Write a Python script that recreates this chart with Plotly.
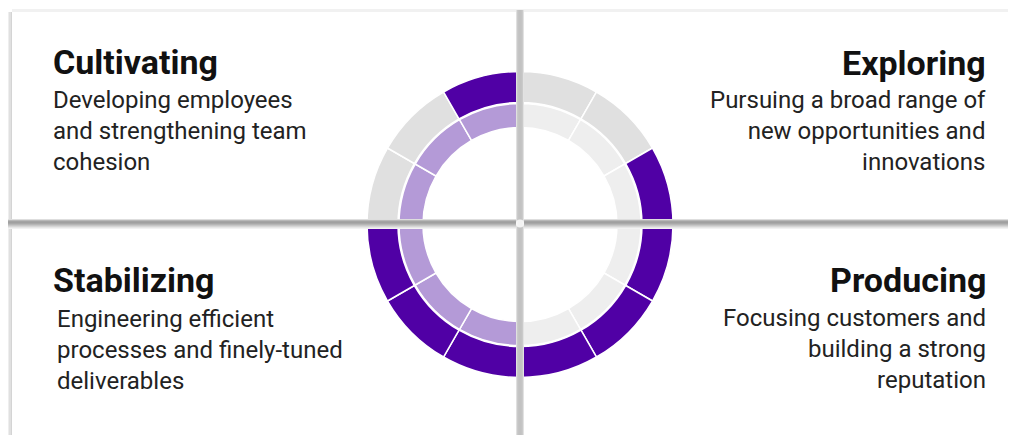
import plotly.graph_objects as go

# The page body has an 8px default margin; the figure is sized to fill the rest
OFF = 8
SCREEN_W, SCREEN_H = 1016, 435
W, H = SCREEN_W - OFF, SCREEN_H - OFF

# ---------------- data ----------------
quadrants = ["Exploring", "Producing", "Stabilizing", "Cultivating"]
descriptions = [
    ["Pursuing a broad range of", "new opportunities and", "innovations"],
    ["Focusing customers and", "building a strong", "reputation"],
    ["Engineering efficient", "processes and finely-tuned", "deliverables"],
    ["Developing employees", "and strengthening team", "cohesion"],
]
# 12 equal segments, clockwise from 12 o'clock (3 per quadrant)
segment_values = [1, 1, 1, 1, 1, 1, 1, 1, 1, 1, 1, 1]
outer_ring_active = [0, 0, 1, 1, 1, 1, 1, 1, 1, 0, 0, 1]
inner_ring_active = [0, 0, 0, 0, 0, 0, 1, 1, 1, 1, 1, 1]

# ---------------- style ----------------
PURPLE = "#5000a5"
LIGHT_PURPLE = "#b49ad7"
OUTER_GRAY = "#e0e0e0"
INNER_GRAY = "#eeeeee"
FONT = "Roboto"

CX, CY = 520, 224.5
R_OUT, R_OUT_IN = 153, 122
R_IN, R_IN_IN = 121, 97


def px(x):
    return (x - OFF) / W


def py(y):
    return (H - (y - OFF)) / H


def domain(r):
    return dict(x=[px(CX - r), px(CX + r)], y=[py(CY + r), py(CY - r)])


fig = go.Figure()

fig.add_trace(go.Pie(
    values=segment_values,
    sort=False, direction="clockwise", rotation=0,
    hole=R_OUT_IN / R_OUT,
    marker=dict(colors=[PURPLE if a else OUTER_GRAY for a in outer_ring_active],
                line=dict(color="white", width=1.5)),
    textinfo="none", hoverinfo="skip", showlegend=False,
    domain=domain(R_OUT),
))
fig.add_trace(go.Pie(
    values=segment_values,
    sort=False, direction="clockwise", rotation=0,
    hole=R_IN_IN / R_IN,
    marker=dict(colors=[LIGHT_PURPLE if a else INNER_GRAY for a in inner_ring_active],
                line=dict(color="white", width=1.5)),
    textinfo="none", hoverinfo="skip", showlegend=False,
    domain=domain(R_IN),
))

shapes = []


def rect(x0, y0, x1, y1, color, layer="below", opacity=1):
    shapes.append(dict(type="rect", xref="paper", yref="paper",
                       x0=px(x0), x1=px(x1), y0=py(y1), y1=py(y0),
                       fillcolor=color, line=dict(width=0), layer=layer,
                       opacity=opacity))


# outer card shadows (top and left)
rect(12, 9, SCREEN_W, 12, "#f1f1f1")
rect(8, 12, 9, SCREEN_H, "#eeeeee")
rect(9, 12, 11, SCREEN_H, "#e0e0e0")
rect(11, 12, 12, SCREEN_H, "#d4d4d4")

# gap between cards: horizontal band (drawn above the donut)
hband = [(219, "#dedede"), (220, "#b8b8b8"), (221, "#a4a4a4"), (222, "#a0a0a0"),
         (223, "#a8a8a8"), (224, "#b6b6b6"), (225, "#c6c6c6"), (226, "#d6d6d6"),
         (227, "#e6e6e6"), (228, "#f2f2f2")]
for y, c in hband:
    rect(8, y, SCREEN_W, y + 1, c, layer="above")
# vertical band
vband = [(516, "#e0e0e0"), (517, "#cacaca"), (518, "#c4c4c4"), (519, "#c2c2c2"),
         (520, "#c2c2c2"), (521, "#c4c4c4"), (522, "#cacaca"), (523, "#e2e2e2")]
for x, c in vband:
    rect(x, 10, x + 1, SCREEN_H, c, layer="above")
# soft highlight where the card corners meet
shapes.append(dict(type="circle", xref="paper", yref="paper",
                   x0=px(CX - 4), x1=px(CX + 4), y0=py(CY + 3), y1=py(CY - 5),
                   fillcolor="white", opacity=0.8, line=dict(width=0), layer="above"))

annotations = []
# positions: (x, align, title center y, first body line center y, body x)
layout_pos = [
    (988, "right", 63, 99.5, 988),
    (988, "right", 280, 317, 988),
    (51, "left", 280, 318, 55),
    (51, "left", 62, 99.5, 51),
]
for q, desc, (x, al, ty, by, bx) in zip(quadrants, descriptions, layout_pos):
    annotations.append(dict(
        text=f"<b>{q}</b>", xref="paper", yref="paper", x=px(x), y=py(ty),
        xanchor=al, yanchor="middle", showarrow=False, align=al,
        font=dict(family=FONT, size=34, color="#111111")))
    annotations.append(dict(
        text="<br>".join(desc), xref="paper", yref="paper", x=px(bx), y=py(by + 31.5),
        xanchor=al, yanchor="middle", showarrow=False, align=al,
        font=dict(family=FONT, size=24, color="#222222")))

fig.update_layout(
    width=W, height=H,
    margin=dict(l=0, r=0, t=0, b=0),
    paper_bgcolor="white", plot_bgcolor="white",
    shapes=shapes, annotations=annotations,
    showlegend=False,
)

fig.write_html("out.html")
